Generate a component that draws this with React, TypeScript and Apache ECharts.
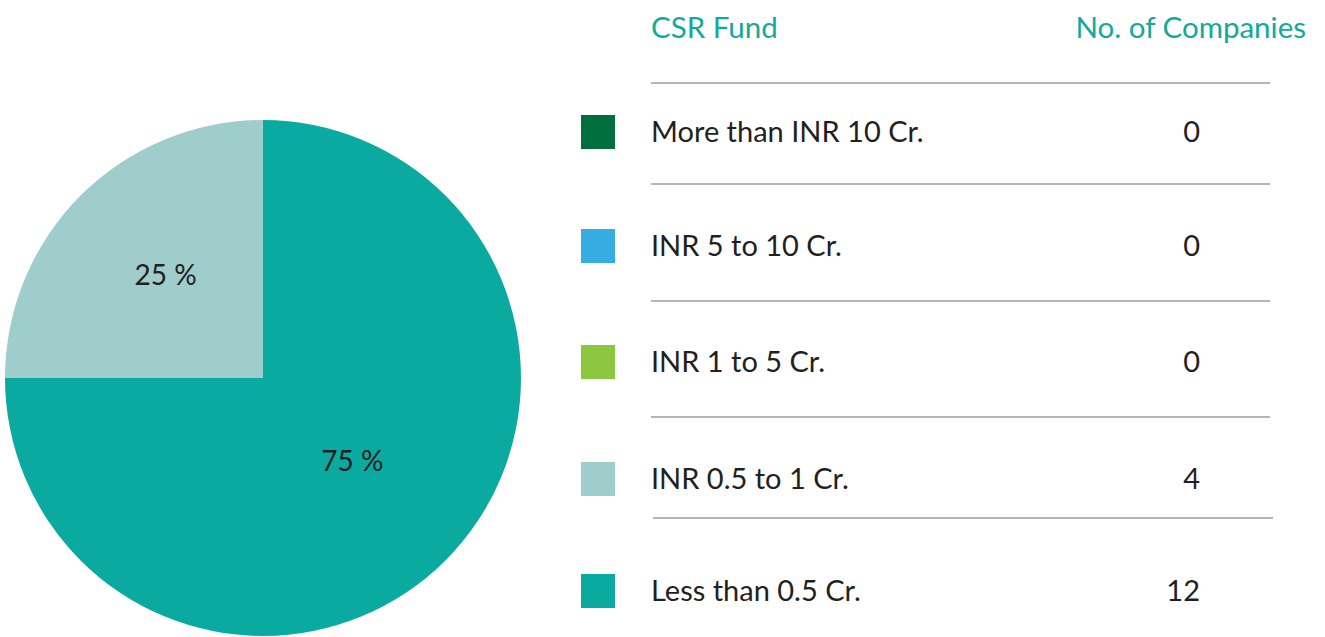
import React, { useEffect, useRef } from "react";
import * as echarts from "echarts";

const categories = [
  "More than INR 10 Cr.",
  "INR 5 to 10 Cr.",
  "INR 1 to 5 Cr.",
  "INR 0.5 to 1 Cr.",
  "Less than 0.5 Cr.",
];
const companies = [0, 0, 0, 4, 12];
const colors = ["#006F3D", "#35ADE3", "#8DC63F", "#9ECDCC", "#0AAAA0"];
const headers = ["CSR Fund", "No. of Companies"];

const FONT = "Lato";

export default function App() {
  const ref = useRef<HTMLDivElement>(null);
  useEffect(() => {
    document.body.style.margin = "0";
    const chart = echarts.init(ref.current!, null, { renderer: "svg" });
    const rowY = [132, 246, 362, 479, 591];
    const lines = [
      { y: 83, x1: 651, x2: 1270 },
      { y: 184, x1: 651, x2: 1270 },
      { y: 301, x1: 651, x2: 1270 },
      { y: 417, x1: 651, x2: 1270 },
      { y: 518, x1: 653, x2: 1273 },
    ];
    const graphics: any[] = [];
    graphics.push({
      type: "text",
      x: 651,
      y: 26,
      style: { text: headers[0], fill: "#12A99C", font: `29.5px ${FONT}`, textVerticalAlign: "middle" },
    });
    graphics.push({
      type: "text",
      x: 1306,
      y: 26,
      style: {
        text: headers[1],
        fill: "#12A99C",
        font: `29.5px ${FONT}`,
        textAlign: "right",
        textVerticalAlign: "middle",
      },
    });
    lines.forEach((l) =>
      graphics.push({
        type: "line",
        shape: { x1: l.x1, y1: l.y, x2: l.x2, y2: l.y },
        style: { stroke: "#B5B5B5", lineWidth: 2 },
      })
    );
    categories.forEach((c, i) => {
      graphics.push({
        type: "rect",
        shape: { x: 581, y: rowY[i] - 17, width: 34, height: 34 },
        style: { fill: colors[i] },
      });
      graphics.push({
        type: "text",
        x: 651,
        y: rowY[i] - 1.5,
        style: { text: c, fill: "#231F20", font: `29px ${FONT}`, textVerticalAlign: "middle" },
      });
      graphics.push({
        type: "text",
        x: 1200,
        y: rowY[i] - 1.5,
        style: {
          text: String(companies[i]),
          fill: "#231F20",
          font: `29px ${FONT}`,
          textAlign: "right",
          textVerticalAlign: "middle",
        },
      });
    });

    chart.setOption({
      animation: false,
      graphic: graphics,
      series: [
        {
          type: "pie",
          center: [263, 378],
          radius: [0, 258],
          startAngle: 90,
          clockwise: false,
          silent: true,
          data: categories.map((c, i) => ({
            name: c,
            value: companies[i],
            itemStyle: { color: colors[i] },
          })),
          label: {
            show: true,
            position: "inner",
            color: "#231F20",
            fontSize: 28,
            fontFamily: FONT,
            offset: [-4, -11],
            formatter: (p: any) => (p.value ? `${Math.round(p.percent)} %` : ""),
          },
          labelLine: { show: false },
        },
      ],
    });
    return () => chart.dispose();
  }, []);
  return <div ref={ref} style={{ width: 1325, height: 637 }} />;
}
